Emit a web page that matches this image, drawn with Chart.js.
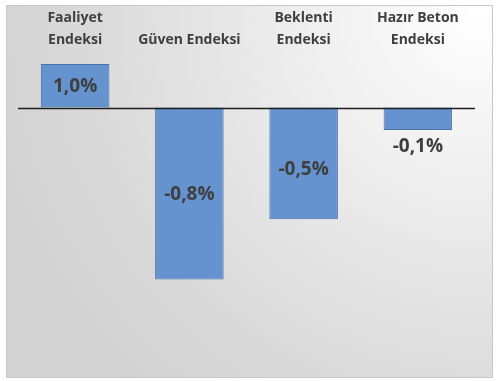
<!DOCTYPE html>
<html>
<head>
<meta charset="utf-8">
<script src="https://cdn.jsdelivr.net/npm/chart.js@4"></script>
<style>
  html, body { margin: 0; padding: 0; background: #fff; }
  #wrap { width: 500px; height: 381px; }
</style>
</head>
<body>
<div id="wrap"><canvas id="chart" width="500" height="381"></canvas></div>
<script>
// Kategoriler ve değerler
const categories = [['Faaliyet', 'Endeksi'], 'Güven Endeksi', ['Beklenti', 'Endeksi'], ['Hazır Beton', 'Endeksi']];
// Faaliyet endeksi ayrı (ikincil) eksende çizilmiş
const faaliyetValues = [1.0, null, null, null];
const otherValues = [null, -0.77, -0.5, -0.1];

const barColor = '#6593cf';
const barBorder = '#4b72a5';
const textColor = '#3f3f3f';

// Arka plan paneli
const panelPlugin = {
    id: 'panel',
    beforeDraw(chart) {
        const ctx = chart.ctx;
        ctx.save();
        ctx.fillStyle = '#ffffff';
        ctx.fillRect(0, 0, chart.width, chart.height);
        const g = ctx.createRadialGradient(480, 10, 0, 480, 10, 520);
        g.addColorStop(0, '#ffffff');
        g.addColorStop(0.35, '#eeeeee');
        g.addColorStop(0.75, '#dadada');
        g.addColorStop(1, '#d2d2d2');
        ctx.fillStyle = g;
        ctx.fillRect(7, 6, 485, 371);
        ctx.strokeStyle = '#c8c8c8';
        ctx.lineWidth = 1;
        ctx.strokeRect(6.5, 5.5, 486, 372);
        ctx.restore();
    }
};

// Sıfır çizgisi ve değer etiketleri
const labelPlugin = {
    id: 'valueLabels',
    afterDatasetsDraw(chart) {
        const ctx = chart.ctx;
        const area = chart.chartArea;
        const y0 = Math.round(chart.scales.y.getPixelForValue(0)) + 0.5;
        ctx.save();
        ctx.strokeStyle = '#1e1e1e';
        ctx.lineWidth = 1.5;
        ctx.beginPath();
        ctx.moveTo(area.left, y0);
        ctx.lineTo(area.right, y0);
        ctx.stroke();

        ctx.font = 'bold 19px "Open Sans"';
        ctx.fillStyle = textColor;
        ctx.textAlign = 'center';
        ctx.textBaseline = 'middle';
        chart.data.datasets.forEach((ds, i) => {
            const meta = chart.getDatasetMeta(i);
            meta.data.forEach((bar, j) => {
                const v = ds.data[j];
                if (v === null) return;
                const text = v.toFixed(1).replace('.', ',') + '%';
                const h = Math.abs(bar.y - bar.base);
                let y;
                if (h > 35) y = (bar.y + bar.base) / 2 + (v < 0 && h < 130 ? 6 : 1);
                else y = bar.y + (v < 0 ? 17 : -17);
                ctx.fillText(text, bar.x, y);
            });
        });
        ctx.restore();
    }
};

new Chart(document.getElementById('chart'), {
    type: 'bar',
    data: {
        labels: categories,
        datasets: [{
            data: faaliyetValues,
            yAxisID: 'y2',
            backgroundColor: barColor,
            borderColor: barBorder,
            borderWidth: 1
        }, {
            data: otherValues,
            yAxisID: 'y',
            backgroundColor: barColor,
            borderColor: barBorder,
            borderWidth: 1
        }]
    },
    options: {
        responsive: false,
        animation: false,
        layout: { padding: { left: 18, right: 25, top: 6, bottom: 11 } },
        datasets: {
            bar: { grouped: false, categoryPercentage: 1, barPercentage: 0.6 }
        },
        plugins: {
            legend: { display: false },
            tooltip: { enabled: false }
        },
        scales: {
            x: {
                position: 'top',
                grid: { display: false, drawTicks: false },
                border: { display: false },
                ticks: {
                    padding: 1,
                    maxRotation: 0,
                    autoSkip: false,
                    color: textColor,
                    font: { family: 'Open Sans', size: 14, weight: 'bold', lineHeight: 1.57 }
                }
            },
            y: {
                display: false,
                min: -1.175,
                max: 0.249
            },
            y2: {
                display: false,
                min: -6.025,
                max: 1.275
            }
        }
    },
    plugins: [panelPlugin, labelPlugin]
});
</script>
</body>
</html>
